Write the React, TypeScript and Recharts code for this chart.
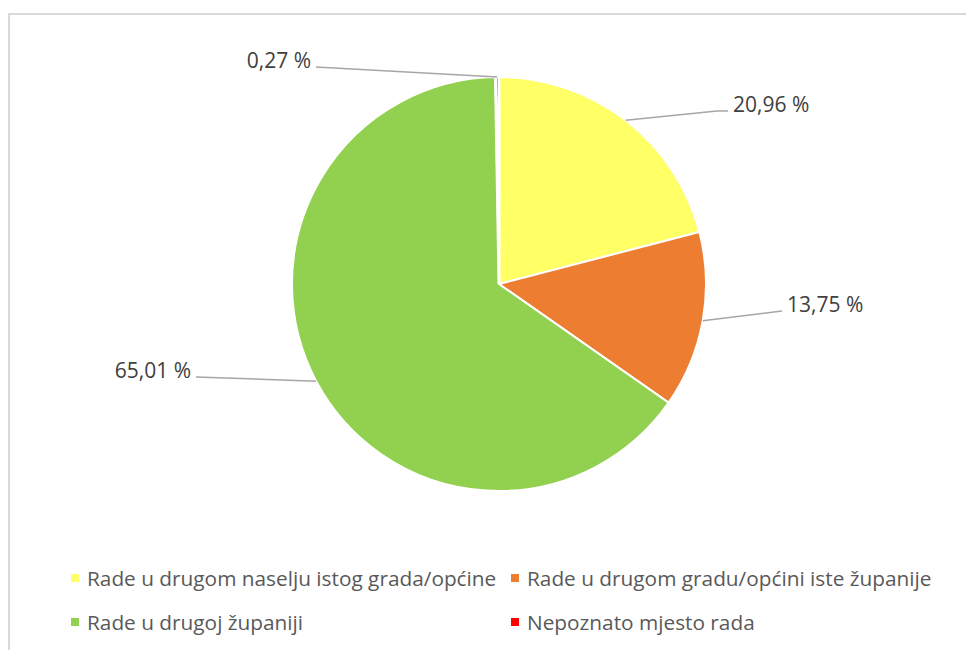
import { Legend, Pie, PieChart, Cell } from "recharts";

const categories = [
  "Rade u drugom naselju istog grada/općine",
  "Rade u drugom gradu/općini iste županije",
  "Rade u drugoj županiji",
  "Nepoznato mjesto rada",
];
const shares = [20.96, 13.75, 65.01, 0.27];
const colors = ["#FFFF66", "#ED7D31", "#92D050", "#FF0000"];

// elbow of each leader line, relative to pie centre, plus a short horizontal tail
const labelElbows = [
  { dx: 218, dy: -173, tail: 11 },
  { dx: 283, dy: 27, tail: 0 },
  { dx: -303, dy: 93, tail: 0 },
  { dx: -183, dy: -217, tail: 0 },
];

const data = categories.map((name, i) => ({ name, value: shares[i] }));

const FONT = "'Open Sans', 'Liberation Sans', sans-serif";
const RADIAN = Math.PI / 180;

function fmt(v: number) {
  return v.toFixed(2).replace(".", ",") + " %";
}

function renderLabel(props: any) {
  const { cx, cy, midAngle, outerRadius, index, value } = props;
  const sx = cx + outerRadius * Math.cos(-midAngle * RADIAN);
  const sy = cy + outerRadius * Math.sin(-midAngle * RADIAN);
  const e = labelElbows[index];
  const ex = cx + e.dx;
  const ey = cy + e.dy;
  const right = e.dx > 0;
  const tx = ex + (right ? e.tail : -e.tail);
  const textX = tx + (right ? 5 : -5);
  return (
    <g>
      <polyline
        points={`${sx},${sy} ${ex},${ey} ${tx},${ey}`}
        fill="none"
        stroke="#A6A6A6"
        strokeWidth={1.5}
      />
      <text
        x={textX}
        y={ey - 7}
        textAnchor={right ? "start" : "end"}
        dominantBaseline="central"
        fill="#404040"
        fontSize={21}
        fontFamily={FONT}
      >
        {fmt(value)}
      </text>
    </g>
  );
}

function LegendGrid() {
  return (
    <div
      style={{
        display: "grid",
        gridTemplateColumns: "440px 440px",
        rowGap: 16,
        fontFamily: FONT,
        fontSize: 20.8,
        color: "#595959",
      }}
    >
      {categories.map((c, i) => (
        <div key={c} style={{ display: "flex", alignItems: "center", height: 28 }}>
          <span
            style={{
              width: 8,
              height: 8,
              background: colors[i],
              marginRight: 8,
              flexShrink: 0,
            }}
          />
          <span style={{ whiteSpace: "nowrap" }}>{c}</span>
        </div>
      ))}
    </div>
  );
}

export default function App() {
  return (
    <div
      style={{
        position: "relative",
        top: 5,
        width: 966,
        height: 640,
        borderTop: "2px solid #D9D9D9",
        borderLeft: "2px solid #D9D9D9",
        background: "#fff",
        overflow: "hidden",
      }}
    >
      <PieChart width={964} height={638}>
        <Pie
          data={data}
          dataKey="value"
          nameKey="name"
          cx={484}
          cy={264}
          outerRadius={207}
          startAngle={90}
          endAngle={-270}
          stroke="#FFFFFF"
          strokeWidth={2}
          label={renderLabel}
          labelLine={false}
          isAnimationActive={false}
        >
          {data.map((d, i) => (
            <Cell
              key={d.name}
              fill={colors[i]}
              strokeWidth={i === 3 ? 3 : 2}
            />
          ))}
        </Pie>
        <Legend
          content={() => <LegendGrid />}
          wrapperStyle={{ position: "absolute", left: 61, top: 549, width: 900 }}
        />
      </PieChart>
    </div>
  );
}
